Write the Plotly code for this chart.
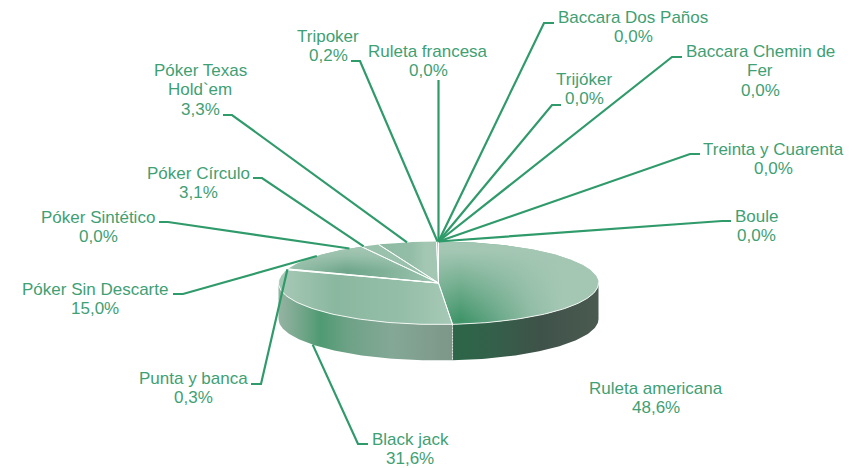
import numpy as np
import plotly.graph_objects as go

# ---- data ----
categories = ["Ruleta americana", "Black jack", "Punta y banca", "Póker Sin Descarte",
              "Póker Sintético", "Póker Círculo", "Póker Texas Hold`em", "Tripoker",
              "Ruleta francesa", "Baccara Dos Paños", "Trijóker", "Baccara Chemin de Fer",
              "Treinta y Cuarenta", "Boule"]
printed_pct = ["48,6%", "31,6%", "0,3%", "15,0%", "0,0%", "3,1%", "3,3%", "0,2%",
               "0,0%", "0,0%", "0,0%", "0,0%", "0,0%", "0,0%"]
# angular share of each slice as measured on the drawn pie
drawn_share = [48.6, 31.6, 0.3, 11.5, 0.0, 1.9, 5.9, 0.2, 0.0, 0.0, 0.0, 0.0, 0.0, 0.0]

# ---- pie projection ----
CX, CY, RX, RY, DEPTH = 438.5, 283.0, 160.0, 41.5, 36.0
TXT = "#3fa074"
LINE = "#2f9a6a"
LIGHT = "#a4c7b4"
LINE_GAP = 19.5

def pt(deg, down=0.0):
    a = np.radians(deg)
    return CX + RX * np.sin(a), CY - RY * np.cos(a) + down

cum = np.concatenate([[0], np.cumsum(drawn_share)]) * 3.6
starts, ends = cum[:-1], cum[1:]
mids = (starts + ends) / 2

# ---- label placement ----
place = {
    "Ruleta americana": dict(x=656, y=388),
    "Black jack": dict(x=410, y=439, tick=(368, 444), elbow=(358, 444), wall=True),
    "Punta y banca": dict(x=193.5, y=378, tick=(251, 384), elbow=(261, 384)),
    "Póker Sin Descarte": dict(x=95, y=289, tick=(173, 294), elbow=(183, 294)),
    "Póker Sintético": dict(x=98, y=217, tick=(159, 222), elbow=(168, 222), shift=-5.0),
    "Póker Círculo": dict(x=198, y=173, tick=(253, 178), elbow=(262, 178), shift=-2.5),
    "Póker Texas Hold`em": dict(x=200, y=70, tick=(223, 115), elbow=(232, 115), lines=["Póker Texas", "Hold`em"]),
    "Tripoker": dict(x=328, y=36, tick=(351, 61), elbow=(360, 61)),
    "Ruleta francesa": dict(x=428, y=51, tick=(438.5, 80), elbow=(438.5, 80)),
    "Baccara Dos Paños": dict(x=633, y=17, tick=(554, 23), elbow=(544, 23)),
    "Trijóker": dict(x=584, y=79, tick=(561, 105), elbow=(552, 105)),
    "Baccara Chemin de Fer": dict(x=760, y=51, tick=(682, 57), elbow=(672, 57), lines=["Baccara Chemin de", "Fer"]),
    "Treinta y Cuarenta": dict(x=773.5, y=149, tick=(700, 154), elbow=(690, 154)),
    "Boule": dict(x=756.5, y=216, tick=(731, 221), elbow=(722, 221)),
}

fig = go.Figure()

def poly(xs, ys, grad=None, color=None):
    kw = dict(x=xs, y=ys, mode="lines", fill="toself", hoverinfo="skip", showlegend=False,
              line=dict(width=0, color="rgba(0,0,0,0)"))
    if grad:
        kw["fillgradient"] = grad
        kw["fillcolor"] = "rgba(0,0,0,0)"
    else:
        kw["fillcolor"] = color
    fig.add_trace(go.Scatter(**kw))

def hgrad(x0, x1, stops):
    return dict(type="horizontal", start=x0, stop=x1, colorscale=stops)

def vgrad(y0, y1, stops):
    return dict(type="vertical", start=y0, stop=y1, colorscale=stops)

L0 = "rgba(164,199,180,1)"
L1 = "rgba(164,199,180,0)"

# walls (only the front half of the rim is visible)
wall_grads = {
    "Ruleta americana": hgrad(453, 598, [[0, "#2c6648"], [0.25, "#33614a"], [0.6, "#3f5249"], [1, "#4a5a51"]]),
    "Black jack": hgrad(279, 453, [[0, "#94b3a2"], [0.12, "#75a78c"], [0.24, "#4f9a72"], [0.4, "#6ea287"],
                                  [0.65, "#84a896"], [1, "#7d9688"]]),
}
for cat, s, e in zip(categories, starts, ends):
    a, b = max(s, 90), min(e, 270)
    if b <= a:
        continue
    ang = np.linspace(a, b, 80)
    xt, yt = pt(ang)
    xb, yb = pt(ang, DEPTH)
    poly(np.r_[xt, xb[::-1], xt[0]], np.r_[yt, yb[::-1], yt[0]], grad=wall_grads.get(cat), color="#7d9688")

# top faces
top_h = {
    "Ruleta americana": (hgrad(438, 598, [[0, "#55a07a"], [0.14, "#3f9468"], [0.32, "#5fa381"], [0.58, "#8fbba3"], [0.78, LIGHT], [1, LIGHT]]),
                         vgrad(242, 324, [[0, L0], [0.1, L0], [0.95, L1], [1, L1]])),
    "Black jack": (hgrad(285, 453, [[0, "#a4c7b4"], [0.3, "#8ab79f"], [0.7, "#95bea8"], [1, "#a6c9b6"]]), None),
    "Póker Sin Descarte": (hgrad(285, 438, [[0, "#9cc2ad"], [0.4, "#6fa68b"], [0.65, "#80b198"], [1, "#a0c5b1"]]),
                           vgrad(247, 283, [[0, L0], [0.25, "rgba(164,199,180,0.75)"], [0.65, L1], [1, L1]])),
    "Póker Texas Hold`em": (hgrad(377, 438, [[0, "#8dba a2".replace(" ", "")], [0.55, "#93bda7"], [0.8, "#a3c7b3"], [1, "#a3c7b3"]]), None),
}
for cat, s, e in zip(categories, starts, ends):
    if e <= s:
        continue
    ang = np.linspace(s, e, max(2, int((e - s) * 2)))
    xr, yr = pt(ang)
    xs = np.r_[CX, xr, CX]
    ys = np.r_[CY, yr, CY]
    h, v = top_h.get(cat, (None, None))
    poly(xs, ys, grad=h, color="#9ac1ab")
    if v:
        poly(xs, ys, grad=v)

# white seams
white = dict(color="rgba(255,255,255,0.85)", width=1)
for s, e in zip(starts, ends):
    if e <= s:
        continue
    xr, yr = pt(np.array([s, e]))
    fig.add_trace(go.Scatter(x=[xr[0], CX, xr[1]], y=[yr[0], CY, yr[1]], mode="lines", line=white,
                             hoverinfo="skip", showlegend=False))
xr, yr = pt(np.linspace(90, 285, 150))
fig.add_trace(go.Scatter(x=xr, y=yr, mode="lines", line=white, hoverinfo="skip", showlegend=False))
xs, ys = pt(np.array([ends[0], ends[0]]), np.array([0, DEPTH]))
fig.add_trace(go.Scatter(x=xs, y=ys, mode="lines", line=dict(color="rgba(255,255,255,0.7)", width=1, dash="2px,1px"),
                         hoverinfo="skip", showlegend=False))

# leaders and labels
for cat, pct, m in zip(categories, printed_pct, mids):
    p = place[cat]
    if "tick" in p:
        tx, ty = pt(m + p.get("shift", 0.0), DEPTH if p.get("wall") else 0.0)
        fig.add_trace(go.Scatter(x=[p["tick"][0], p["elbow"][0], tx], y=[p["tick"][1], p["elbow"][1], ty],
                                 mode="lines", line=dict(color=LINE, width=2.2), hoverinfo="skip", showlegend=False))
    for i, text in enumerate(p.get("lines", [cat]) + [pct]):
        fig.add_annotation(x=p["x"], y=p["y"] + i * LINE_GAP, xref="x", yref="y", text=text, showarrow=False,
                           xanchor="center", yanchor="middle", align="center",
                           font=dict(family="Liberation Sans, Arial, sans-serif", size=17, color=TXT))

fig.update_layout(width=861, height=468, margin=dict(l=0, r=0, t=0, b=0), paper_bgcolor="white",
                  plot_bgcolor="white", showlegend=False)
fig.update_xaxes(range=[0, 861], visible=False, fixedrange=True)
fig.update_yaxes(range=[468, 0], visible=False, fixedrange=True)
fig.write_html("out.html", config=dict(displayModeBar=False),
               post_script="document.body.style.margin='0';document.documentElement.style.overflow='hidden';")
